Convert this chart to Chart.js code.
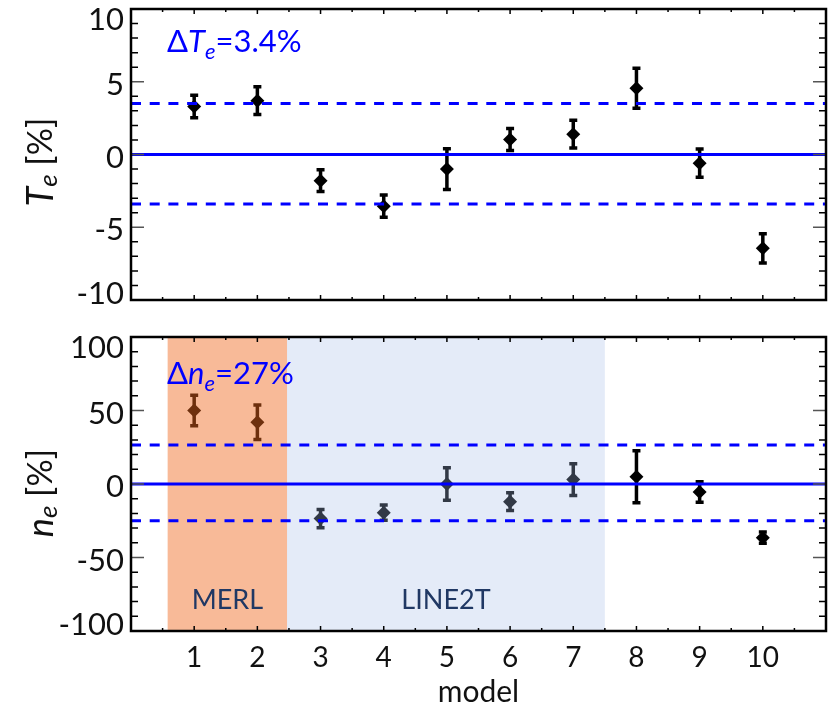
<!DOCTYPE html>
<html>
<head>
<meta charset="utf-8">
<script src="https://cdn.jsdelivr.net/npm/chart.js@4.4.0/dist/chart.umd.min.js"></script>
<style>
  body { margin: 0; background: #fff; }
  #wrap { position: relative; width: 833px; height: 706px; }
  #teBox { position: absolute; left: 0; top: 0; width: 833px; height: 320px; }
  #neBox { position: absolute; left: 0; top: 320px; width: 833px; height: 386px; }
</style>
</head>
<body>
<div id="wrap">
  <div id="teBox"><canvas id="teChart"></canvas></div>
  <div id="neBox"><canvas id="neChart"></canvas></div>
</div>
<script>
// data
const models = [1, 2, 3, 4, 5, 6, 7, 8, 9, 10];
const teValues = [3.3, 3.7, -1.8, -3.55, -1.0, 1.03, 1.4, 4.55, -0.6, -6.45];
const teErrors = [0.78, 0.95, 0.75, 0.76, 1.4, 0.75, 0.95, 1.37, 0.97, 1.0];
const neValues = [50, 42, -23.5, -19.5, 0, -12, 3, 5, -5.4, -36.5];
const neErrors = [10.4, 11.7, 6.2, 5.2, 11, 6, 10.8, 17.7, 7, 3.8];
const teBand = [3.5, -3.4];
const neBand = [26.5, -25];
const teTicks = [-10, -5, 0, 5, 10];
const neTicks = [-100, -50, 0, 50, 100];
const teMinorStep = 1;
const neMinorStep = 10;
const xTicks = [1, 2, 3, 4, 5, 6, 7, 8, 9, 10];
const regionNames = ['MERL', 'LINE2T'];
const regionStart = [0.58, 2.47];
const regionEnd = [2.47, 7.5];

const FONT = 'Lato, "Open Sans", sans-serif';
const BLUE = '#0000ff';

// text made of pieces: [text, size, italic, dy]
function drawPieces(ctx, pieces, x, y, align) {
    let total = 0;
    pieces.forEach(p => {
        ctx.font = (p[2] ? 'italic ' : '') + p[1] + 'px ' + FONT;
        total += ctx.measureText(p[0]).width;
    });
    let cx = align === 'center' ? x - total / 2 : x;
    ctx.textAlign = 'left';
    pieces.forEach(p => {
        ctx.font = (p[2] ? 'italic ' : '') + p[1] + 'px ' + FONT;
        ctx.fillText(p[0], cx, y + p[3]);
        cx += ctx.measureText(p[0]).width;
    });
}

function makePanel(id, cfg) {
    const decor = {
        id: 'decor_' + id,
        beforeDatasetDraw(chart, args) {
            if (args.index !== 0) return;
            const ctx = chart.ctx, xs = chart.scales.x, ys = chart.scales.y;
            ctx.save();
            ctx.strokeStyle = '#000';
            ctx.lineWidth = 3.5;
            models.forEach((m, i) => {
                const px = xs.getPixelForValue(m);
                const y1 = ys.getPixelForValue(cfg.values[i] + cfg.errors[i]);
                const y2 = ys.getPixelForValue(cfg.values[i] - cfg.errors[i]);
                ctx.beginPath();
                ctx.moveTo(px, y1); ctx.lineTo(px, y2);
                ctx.moveTo(px - 4, y1); ctx.lineTo(px + 4, y1);
                ctx.moveTo(px - 4, y2); ctx.lineTo(px + 4, y2);
                ctx.stroke();
            });
            ctx.restore();
        },
        afterDatasetDraw(chart, args) {
            if (args.index !== 0 || !cfg.regions) return;
            const ctx = chart.ctx, xs = chart.scales.x, a = chart.chartArea;
            const fills = ['rgba(240,105,30,0.46)', 'rgba(165,190,232,0.3)'];
            ctx.save();
            regionNames.forEach((n, i) => {
                const x1 = xs.getPixelForValue(regionStart[i]);
                const x2 = xs.getPixelForValue(regionEnd[i]);
                ctx.fillStyle = fills[i];
                ctx.fillRect(x1, a.top, x2 - x1, a.bottom - a.top);
            });
            ctx.restore();
        },
        afterDraw(chart) {
            const ctx = chart.ctx, xs = chart.scales.x, ys = chart.scales.y, a = chart.chartArea;
            ctx.save();
            // inner ticks
            ctx.lineWidth = 1.5;
            const lo = cfg.ticks[0], hi = cfg.ticks[cfg.ticks.length - 1];
            for (let v = lo; v <= hi + 1e-9; v += cfg.minor) {
                const py = ys.getPixelForValue(v);
                const major = cfg.ticks.includes(v);
                const len = major ? 13 : 7;
                ctx.strokeStyle = major ? '#555' : '#000';
                ctx.beginPath();
                ctx.moveTo(a.left, py); ctx.lineTo(a.left + len, py);
                ctx.moveTo(a.right, py); ctx.lineTo(a.right - len, py);
                ctx.stroke();
            }
            ctx.strokeStyle = '#000';
            for (let v = 0.5; v < 11; v += 0.5) {
                const px = xs.getPixelForValue(v);
                const len = Number.isInteger(v) ? 5 : 3;
                ctx.beginPath();
                ctx.moveTo(px, a.top); ctx.lineTo(px, a.top + len);
                ctx.moveTo(px, a.bottom); ctx.lineTo(px, a.bottom - len);
                ctx.stroke();
            }
            // frame
            ctx.lineWidth = 2.5;
            ctx.strokeRect(a.left, a.top, a.right - a.left, a.bottom - a.top);

            // y tick labels
            ctx.fillStyle = '#111';
            ctx.font = '31px ' + FONT;
            ctx.textAlign = 'right';
            ctx.textBaseline = 'middle';
            cfg.ticks.forEach(v => {
                let py = ys.getPixelForValue(v) + 3;
                py = Math.max(py, a.top + 11);
                py = Math.min(py, a.bottom - 6);
                ctx.fillText(String(v), a.left - 7, py);
            });

            // y title, rotated
            ctx.save();
            ctx.translate(41, cfg.titleY);
            ctx.rotate(-Math.PI / 2);
            ctx.fillStyle = '#111';
            ctx.textBaseline = 'middle';
            drawPieces(ctx, [[cfg.sym, 36, true, 0], ['e', 26, true, 8], [' [%]', 34, false, 0]], 0, 0, 'center');
            ctx.restore();

            // delta label
            ctx.fillStyle = BLUE;
            ctx.textBaseline = 'alphabetic';
            drawPieces(ctx, [['\u0394', 31, false, 0], [cfg.sym, 31, true, 0], ['e', 22, true, 7], [cfg.deltaText, 31, false, 0]],
                a.left + 36, cfg.deltaY, 'left');

            // region names
            if (cfg.regions) {
                ctx.fillStyle = '#203864';
                ctx.font = '27px ' + FONT;
                ctx.textAlign = 'center';
                regionNames.forEach((n, i) => {
                    const px = xs.getPixelForValue((regionStart[i] + regionEnd[i]) / 2);
                    ctx.fillText(n, px, a.bottom - 22);
                });
            }
            ctx.restore();
        }
    };

    const lineSet = (y, dashed) => ({
        type: 'line',
        data: [{x: 0, y: y}, {x: 11, y: y}],
        borderColor: BLUE,
        borderWidth: 3,
        borderDash: dashed ? [10, 8.7] : [],
        pointRadius: 0,
        order: 0
    });

    return new Chart(document.getElementById(id), {
        type: 'scatter',
        data: {
            datasets: [
                {
                    data: models.map((m, i) => ({x: m, y: cfg.values[i]})),
                    pointStyle: 'rectRot',
                    pointRadius: 7,
                    backgroundColor: '#000',
                    borderWidth: 0,
                    order: 2
                },
                lineSet(0, false),
                lineSet(cfg.band[0], true),
                lineSet(cfg.band[1], true)
            ]
        },
        options: {
            responsive: true,
            maintainAspectRatio: false,
            animation: false,
            devicePixelRatio: 1,
            layout: { padding: cfg.padding },
            plugins: { legend: { display: false }, tooltip: { enabled: false } },
            scales: {
                x: {
                    type: 'linear',
                    min: 0,
                    max: 11,
                    display: cfg.showX,
                    grid: { display: false, drawTicks: false },
                    border: { display: false },
                    afterBuildTicks: s => { s.ticks = xTicks.map(v => ({value: v})); },
                    afterFit: s => { s.height = cfg.showX ? 75 : 0; },
                    ticks: {
                        padding: 10,
                        color: '#111',
                        font: { family: FONT, size: 28 },
                        callback: v => String(v)
                    },
                    title: {
                        display: true,
                        text: 'model',
                        color: '#111',
                        font: { family: FONT, size: 30, lineHeight: 1 },
                        padding: { top: 0, bottom: -1 }
                    }
                },
                y: {
                    type: 'linear',
                    min: cfg.ticks[0],
                    max: cfg.ticks[cfg.ticks.length - 1],
                    display: false
                }
            }
        },
        plugins: [decor]
    });
}

makePanel('teChart', {
    values: teValues, errors: teErrors, band: teBand, ticks: teTicks, minor: teMinorStep,
    sym: 'T', deltaText: '=3.4%', deltaY: 52, titleY: 162,
    showX: false, regions: false,
    padding: { left: 131, right: 4, top: 9, bottom: 20 }
});

makePanel('neChart', {
    values: neValues, errors: neErrors, band: neBand, ticks: neTicks, minor: neMinorStep,
    sym: 'n', deltaText: '=27%', deltaY: 64, titleY: 173,
    showX: true, regions: true,
    padding: { left: 131, right: 4, top: 17, bottom: 0 }
});
</script>
</body>
</html>
